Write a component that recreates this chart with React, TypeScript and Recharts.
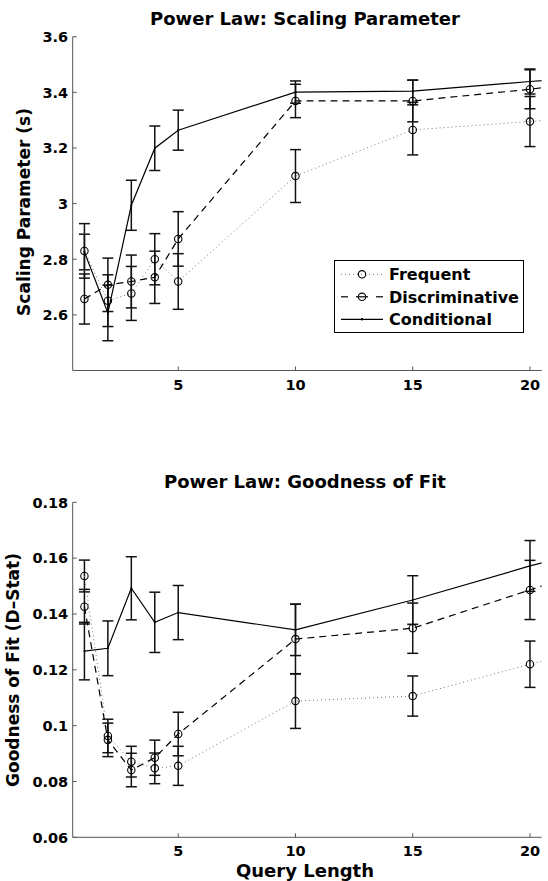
import { LineChart, Line, XAxis, YAxis, ErrorBar, Legend } from "recharts";

// query lengths (25 is only there so the lines run on past the right edge, as in the figure)
const queryLength = [1, 2, 3, 4, 5, 10, 15, 20, 25];

// top panel: scaling parameter (s)
const freqScale = [2.83, 2.651, 2.677, 2.8, 2.72, 3.099, 3.265, 3.295, 3.33];
const freqScaleErr = [0.098, 0.093, 0.097, 0.092, 0.1, 0.095, 0.09, 0.09, 0];
const discScale = [2.657, 2.708, 2.72, 2.735, 2.873, 3.369, 3.369, 3.411, 3.465];
const discScaleErr = [0.09, 0.096, 0.095, 0.094, 0.098, 0.06, 0.075, 0.07, 0];
const condScale = [2.826, 2.607, 2.994, 3.199, 3.264, 3.401, 3.404, 3.439, 3.47];
const condScaleErr = [0.064, 0.1, 0.09, 0.08, 0.072, 0.04, 0.04, 0.045, 0];

// bottom panel: goodness of fit (D-stat)
const freqFit = [0.1536, 0.0963, 0.0871, 0.0847, 0.0856, 0.1088, 0.1106, 0.122, 0.132];
const freqFitErr = [0.0057, 0.006, 0.0055, 0.0055, 0.007, 0.0098, 0.0072, 0.0083, 0];
const discFit = [0.1426, 0.0949, 0.0841, 0.0885, 0.097, 0.131, 0.1349, 0.1486, 0.163];
const discFitErr = [0.0062, 0.006, 0.006, 0.0063, 0.0078, 0.0125, 0.009, 0.0106, 0];
const condFit = [0.1267, 0.1277, 0.1492, 0.137, 0.1405, 0.1343, 0.145, 0.1572, 0.168];
const condFitErr = [0.0103, 0.0098, 0.0113, 0.0108, 0.0097, 0.0092, 0.0087, 0.0091, 0];

const xTicks = [5, 10, 15, 20];
const scaleTicks = [2.6, 2.8, 3.0, 3.2, 3.4, 3.6];
const fitTicks = [0.06, 0.08, 0.1, 0.12, 0.14, 0.16, 0.18];

const seriesNames = ["Frequent", "Discriminative", "Conditional"];

const FONT = "'DejaVu Sans', sans-serif";
const AXIS = "#555";

const scalingRows = queryLength.map((x, i) => ({
  x,
  frequent: freqScale[i],
  frequentErr: freqScaleErr[i],
  discriminative: discScale[i],
  discriminativeErr: discScaleErr[i],
  conditional: condScale[i],
  conditionalErr: condScaleErr[i],
}));

const fitRows = queryLength.map((x, i) => ({
  x,
  frequent: freqFit[i],
  frequentErr: freqFitErr[i],
  discriminative: discFit[i],
  discriminativeErr: discFitErr[i],
  conditional: condFit[i],
  conditionalErr: condFitErr[i],
}));

function YTick(props: any) {
  const { x, y, payload } = props;
  return (
    <g>
      <line x1={x} y1={y} x2={x + 4} y2={y} stroke={AXIS} />
      <text x={x - 4.5} y={y + 5.3} textAnchor="end" fontFamily={FONT} fontWeight="bold" fontSize={14.5} fill="#000">
        {String(payload.value)}
      </text>
    </g>
  );
}

function XTick(props: any) {
  const { x, y, payload } = props;
  return (
    <g>
      <line x1={x} y1={y} x2={x} y2={y - 4} stroke={AXIS} />
      <text x={x} y={y + 19} textAnchor="middle" fontFamily={FONT} fontWeight="bold" fontSize={14.5} fill="#000">
        {String(payload.value)}
      </text>
    </g>
  );
}

function LegendBox() {
  const rows = [20, 42.5, 65];
  return (
    <svg width={190} height={73} style={{ display: "block" }}>
      <rect x={0.5} y={0.5} width={189} height={72} fill="#fff" stroke="#000" strokeWidth={1} />
      {/* frequent */}
      <line x1={7} y1={rows[0] - 5.7} x2={49} y2={rows[0] - 5.7} stroke="#777" strokeDasharray="1 3" />
      <circle cx={28} cy={rows[0] - 5.7} r={3.7} fill="none" stroke="#000" strokeWidth={1.1} />
      {/* discriminative */}
      <line x1={7} y1={rows[1] - 5.7} x2={14} y2={rows[1] - 5.7} stroke="#000" strokeWidth={1.2} />
      <line x1={22} y1={rows[1] - 5.7} x2={34} y2={rows[1] - 5.7} stroke="#000" strokeWidth={1.2} />
      <line x1={42} y1={rows[1] - 5.7} x2={49} y2={rows[1] - 5.7} stroke="#000" strokeWidth={1.2} />
      <circle cx={28} cy={rows[1] - 5.7} r={3.7} fill="none" stroke="#000" strokeWidth={1.1} />
      {/* conditional */}
      <line x1={7} y1={rows[2] - 5.7} x2={49} y2={rows[2] - 5.7} stroke="#000" strokeWidth={1.2} />
      <circle cx={28} cy={rows[2] - 5.7} r={1.2} fill="#000" />
      {seriesNames.map((name, i) => (
        <text key={name} x={55} y={rows[i]} fontFamily={FONT} fontWeight="bold" fontSize={16} fill="#000">
          {name}
        </text>
      ))}
    </svg>
  );
}

function Panel({
  rows,
  yDomain,
  yTicks,
  margin,
  height,
  withLegend,
}: {
  rows: any[];
  yDomain: [number, number];
  yTicks: number[];
  margin: { top: number; right: number; bottom: number; left: number };
  height: number;
  withLegend: boolean;
}) {
  return (
    <LineChart width={548} height={height} data={rows} margin={margin}>
      <XAxis
        type="number"
        dataKey="x"
        domain={[0.5, 20.5]}
        allowDataOverflow
        ticks={xTicks}
        tickSize={0}
        tickMargin={0}
        tickLine={false}
        axisLine={{ stroke: AXIS }}
        tick={<XTick />}
        height={40}
      />
      <YAxis
        type="number"
        domain={yDomain}
        allowDataOverflow
        ticks={yTicks}
        tickSize={0}
        tickMargin={0}
        tickLine={false}
        axisLine={{ stroke: AXIS }}
        tick={<YTick />}
        width={60}
      />
      {withLegend && (
        <Legend
          layout="vertical"
          align="center"
          verticalAlign="middle"
          content={() => <LegendBox />}
          wrapperStyle={{ left: 333.5, top: 260, width: 190, height: 73 }}
        />
      )}
      <Line
        dataKey="frequent"
        name="Frequent"
        stroke="#777"
        strokeWidth={1}
        strokeDasharray="1 3"
        dot={{ r: 3.7, stroke: "#000", strokeWidth: 1.1, fill: "none", strokeDasharray: "none" }}
        activeDot={false}
        isAnimationActive={false}
      >
        <ErrorBar dataKey="frequentErr" width={5.5} stroke="#111" strokeWidth={1.5} />
      </Line>
      <Line
        dataKey="discriminative"
        name="Discriminative"
        stroke="#000"
        strokeWidth={1.2}
        strokeDasharray="7 5"
        dot={{ r: 3.7, stroke: "#000", strokeWidth: 1.1, fill: "none", strokeDasharray: "none" }}
        activeDot={false}
        isAnimationActive={false}
      >
        <ErrorBar dataKey="discriminativeErr" width={5.5} stroke="#111" strokeWidth={1.5} />
      </Line>
      <Line
        dataKey="conditional"
        name="Conditional"
        stroke="#000"
        strokeWidth={1.2}
        dot={{ r: 1, fill: "#000", stroke: "none" }}
        activeDot={false}
        isAnimationActive={false}
      >
        <ErrorBar dataKey="conditionalErr" width={5.5} stroke="#111" strokeWidth={1.5} />
      </Line>
    </LineChart>
  );
}

export default function App() {
  return (
    <div style={{ position: "absolute", left: 0, top: 0, width: 548, height: 881, background: "#fff" }}>
      <div style={{ position: "absolute", left: 0, top: 0 }}>
        <Panel
          rows={scalingRows}
          yDomain={[2.4, 3.6]}
          yTicks={scaleTicks}
          margin={{ top: 36.7, right: 6.3, bottom: 29.5, left: 12.7 }}
          height={440}
          withLegend
        />
      </div>
      <div style={{ position: "absolute", left: 0, top: 440 }}>
        <Panel
          rows={fitRows}
          yDomain={[0.06, 0.18]}
          yTicks={fitTicks}
          margin={{ top: 62.3, right: 6.3, bottom: 3.7, left: 12.7 }}
          height={441}
          withLegend={false}
        />
      </div>
      <svg
        width={548}
        height={881}
        style={{ position: "absolute", left: 0, top: 0, pointerEvents: "none" }}
        fontFamily={FONT}
        fontWeight="bold"
      >
        <text x={305} y={25} textAnchor="middle" fontSize={18}>
          Power Law: Scaling Parameter
        </text>
        <text x={305} y={488} textAnchor="middle" fontSize={18}>
          Power Law: Goodness of Fit
        </text>
        <text x={30} y={212} textAnchor="middle" fontSize={17} transform="rotate(-90 30 212)">
          Scaling Parameter (s)
        </text>
        <text x={18.5} y={670} textAnchor="middle" fontSize={17} transform="rotate(-90 18.5 670)">
          Goodness of Fit (D–Stat)
        </text>
        <text x={305} y={876.5} textAnchor="middle" fontSize={18}>
          Query Length
        </text>
      </svg>
    </div>
  );
}
